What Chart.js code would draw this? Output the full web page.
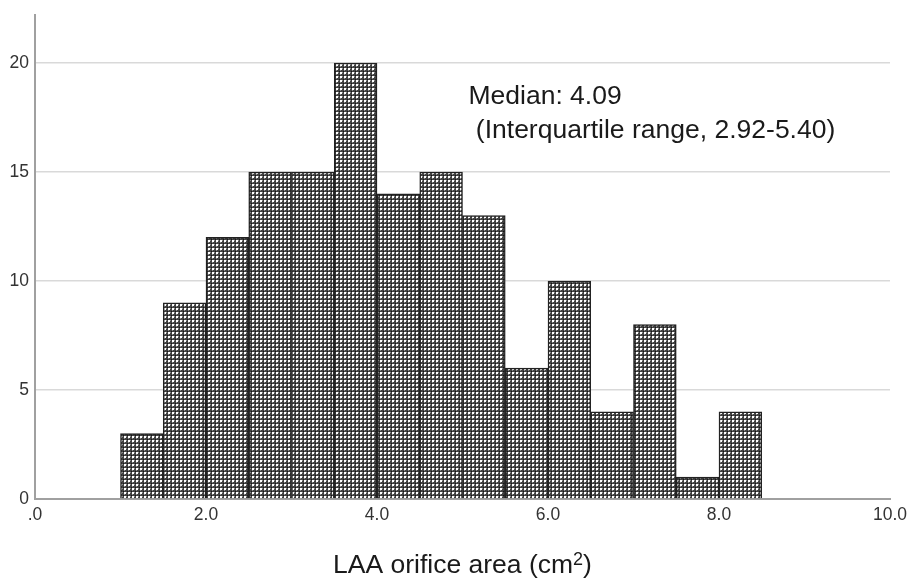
<!DOCTYPE html>
<html>
<head>
<meta charset="utf-8">
<script src="https://cdn.jsdelivr.net/npm/chart.js@4.4.1/dist/chart.umd.min.js"></script>
<style>
  html, body { margin: 0; padding: 0; background: #fff; }
  #wrap { width: 911px; height: 580px; }
</style>
</head>
<body>
<div id="wrap"><canvas id="c" width="911" height="580"></canvas></div>
<script>
// Data
const binCenters = [1.25, 1.75, 2.25, 2.75, 3.25, 3.75, 4.25, 4.75, 5.25, 5.75, 6.25, 6.75, 7.25, 7.75, 8.25];
const counts     = [3, 9, 12, 15, 15, 20, 14, 15, 13, 6, 10, 4, 8, 1, 4];
const xTickValues = [0, 2, 4, 6, 8, 10];
const yTickValues = [0, 5, 10, 15, 20];
const annotationLines = ['Median: 4.09', ' (Interquartile range, 2.92-5.40)'];
const xTitleMain = 'LAA orifice area (cm';
const xTitleSup = '2';
const xTitleEnd = ')';

const FONT = '"Liberation Sans", Arial, sans-serif';

// crosshatch pattern
const tile = document.createElement('canvas');
tile.width = 4; tile.height = 4;
const tc = tile.getContext('2d');
tc.fillStyle = '#404040'; tc.fillRect(0, 0, 4, 4);
tc.fillStyle = '#ffffff'; tc.fillRect(0, 0, 2, 2);
tc.fillStyle = '#8c8c8c'; tc.fillRect(2, 0, 1, 1); tc.fillRect(0, 2, 1, 1);
tc.fillStyle = '#151515'; tc.fillRect(3, 3, 1, 1);

const canvas = document.getElementById('c');
const ctx = canvas.getContext('2d');
const pattern = ctx.createPattern(tile, 'repeat');

const textPlugin = {
  id: 'texts',
  afterDraw(chart) {
    const c = chart.ctx;
    const xs = chart.scales.x;
    c.save();
    c.fillStyle = '#1a1a1a';
    c.textBaseline = 'middle';
    c.textAlign = 'left';
    c.font = '26.5px ' + FONT;
    const ax = xs.getPixelForValue(5.07);
    c.fillText(annotationLines[0], ax, 97);
    c.fillText(annotationLines[1], ax, 131);

    // x-axis title with superscript
    c.textBaseline = 'alphabetic';
    const mainFont = '26.5px ' + FONT;
    const supFont = '18px ' + FONT;
    c.font = mainFont;
    const w1 = c.measureText(xTitleMain).width;
    const w3 = c.measureText(xTitleEnd).width;
    c.font = supFont;
    const w2 = c.measureText(xTitleSup).width;
    const total = w1 + w2 + w3;
    const cx = (chart.chartArea.left + chart.chartArea.right) / 2;
    let x = cx - total / 2;
    const base = 573;
    c.font = mainFont;
    c.fillText(xTitleMain, x, base);
    x += w1;
    c.font = supFont;
    c.fillText(xTitleSup, x, base - 8);
    x += w2;
    c.font = mainFont;
    c.fillText(xTitleEnd, x, base);
    c.restore();
  }
};

new Chart(ctx, {
  type: 'bar',
  data: {
    datasets: [{
      data: binCenters.map((x, i) => ({ x: x, y: counts[i] })),
      backgroundColor: pattern,
      borderColor: '#222222',
      borderWidth: 1.5,
      barPercentage: 1,
      categoryPercentage: 1
    }]
  },
  options: {
    responsive: false,
    animation: false,
    events: [],
    layout: { padding: { top: 15, right: 21, left: 0, bottom: 0 } },
    plugins: { legend: { display: false }, tooltip: { enabled: false }, title: { display: false } },
    scales: {
      x: {
        type: 'linear',
        min: 0, max: 10,
        offset: false,
        grid: { display: false, offset: false, drawTicks: false },
        border: { display: true, color: '#a0a0a0', width: 2 },
        afterBuildTicks(scale) { scale.ticks = xTickValues.map(v => ({ value: v })); },
        ticks: {
          autoSkip: false, maxRotation: 0, padding: 6,
          color: '#333333',
          font: { family: FONT, size: 17.5 },
          callback: v => v === 0 ? '.0' : Number(v).toFixed(1)
        },
        afterFit(scale) { scale.height = 81; scale.paddingLeft = 0; scale.paddingRight = 0; }
      },
      y: {
        min: 0, max: 22.2,
        grid: {
          drawTicks: false,
          color: c => (c.tick && c.tick.value === 0) ? 'rgba(0,0,0,0)' : '#d9d9d9',
          lineWidth: 1.5
        },
        border: { display: true, color: '#a0a0a0', width: 2 },
        afterBuildTicks(scale) { scale.ticks = yTickValues.map(v => ({ value: v })); },
        ticks: {
          padding: 6,
          color: '#333333',
          font: { family: FONT, size: 17.5 },
          callback: v => String(v)
        },
        afterFit(scale) { scale.width = 35; scale.paddingTop = 0; scale.paddingBottom = 0; }
      }
    }
  },
  plugins: [textPlugin]
});
</script>
</body>
</html>
